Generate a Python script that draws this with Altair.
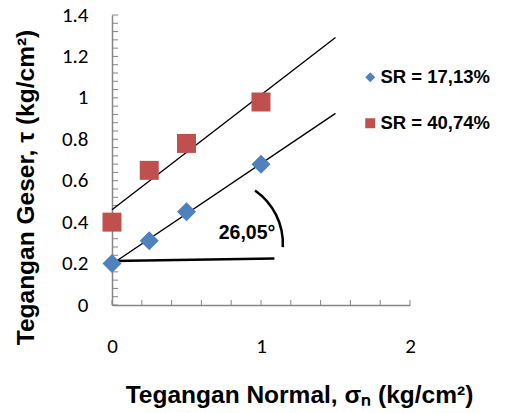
import altair as alt
import pandas as pd

# ---- data ----
sigma_n = [0, 0.25, 0.5, 1]
tau_sr17 = [0.20, 0.31, 0.45, 0.68]
tau_sr40 = [0.40, 0.65, 0.78, 0.98]
series_names = ["SR = 17,13%", "SR = 40,74%"]
series_colors = ["#4F81BD", "#C0504D"]
series_shapes = ["diamond", "square"]
trend_extent = [0, 1.5]

y_major = [0, 0.2, 0.4, 0.6, 0.8, 1.0, 1.2, 1.4]
x_major = [0, 1, 2]
y_minor = [round(i * 0.04, 2) for i in range(36)]
x_minor = [round(i * 0.2, 1) for i in range(11)]

# angle annotation
ref_x = [0, 1.09]
ref_y = [0.212, 0.225]
arc_center = [0.709, 0.295]
angle_label = "26,05°"
angle_label_pos = [0.906, 0.346]

# ---- tables ----
pts = pd.DataFrame({
    "x": sigma_n * 2,
    "y": tau_sr17 + tau_sr40,
    "series": [series_names[0]] * len(sigma_n) + [series_names[1]] * len(sigma_n),
})
yt = pd.DataFrame({"t": y_minor})
xt = pd.DataFrame({"t": x_minor})
ref = pd.DataFrame({"x": [ref_x[0]], "y": [ref_y[0]], "x2": [ref_x[1]], "y2": [ref_y[1]]})
arcdf = pd.DataFrame({"x": [arc_center[0]], "y": [arc_center[1]]})
txt = pd.DataFrame({"x": [angle_label_pos[0]], "y": [angle_label_pos[1]], "label": [angle_label]})

W, H = 298, 290
AX_GRAY = "#868686"
TICK_FONT = "Carlito, Calibri, Lato"
TITLE_FONT = "Liberation Sans, Arial"

x_axis = alt.Axis(
    title="Tegangan Normal, σₙ (kg/cm²)", values=x_major, format="~g", ticks=False, grid=False,
    labelFlush=False,
    labelFont=TICK_FONT, labelFontSize=21, labelColor="black", labelPadding=30,
    domainColor=AX_GRAY, domainWidth=1.5,
    titleFont=TITLE_FONT, titleFontSize=24.5, titleFontWeight="bold", titleColor="black",
    titleX=187, titleY=97, titleBaseline="alphabetic", titleAlign="center",
)
y_axis = alt.Axis(
    title="Tegangan Geser, τ (kg/cm²)", values=y_major, format="~g", ticks=False, grid=False,
    labelFlush=False,
    labelFont=TICK_FONT, labelFontSize=21, labelColor="black", labelPadding=24,
    domainColor=AX_GRAY, domainWidth=1.5,
    titleFont=TITLE_FONT, titleFontSize=24.5, titleFontWeight="bold", titleColor="black",
    titleX=-79, titleY=172, titleBaseline="alphabetic", titleAlign="center", titleAngle=270,
)
xs = alt.Scale(domain=[0, 2], nice=False, zero=False)
ys = alt.Scale(domain=[0, 1.4], nice=False, zero=False)


def X(f):
    return alt.X(f, type="quantitative", scale=xs, axis=x_axis)


def Y(f):
    return alt.Y(f, type="quantitative", scale=ys, axis=y_axis)


ytick_layer = alt.Chart(yt).mark_rule(color=AX_GRAY, strokeWidth=1).encode(
    y=Y("t"), x=alt.value(0), x2=alt.value(6)
)
xtick_layer = alt.Chart(xt).mark_rule(color=AX_GRAY, strokeWidth=1).encode(
    x=X("t"), y=alt.value(H), y2=alt.value(H - 5)
)

trend = alt.Chart(pts).transform_regression(
    "x", "y", groupby=["series"], extent=trend_extent
).mark_line(color="black", strokeWidth=1.4).encode(
    x=X("x"), y=Y("y"), detail="series:N"
)

points = alt.Chart(pts).mark_point(filled=True, opacity=1, size=360).encode(
    x=X("x"), y=Y("y"),
    color=alt.Color("series:N", scale=alt.Scale(domain=series_names, range=series_colors),
                    legend=alt.Legend(title=None)),
    shape=alt.Shape("series:N", scale=alt.Scale(domain=series_names, range=series_shapes),
                    legend=alt.Legend(title=None)),
)

ref_line = alt.Chart(ref).mark_rule(color="black", strokeWidth=2.5).encode(
    x=X("x"), y=Y("y"), x2="x2", y2="y2"
)

arc = alt.Chart(arcdf).mark_arc(
    radius=66.5, radius2=64, theta=0.61, theta2=1.62, color="black"
).encode(x=X("x"), y=Y("y"))

label = alt.Chart(txt).mark_text(
    font=TITLE_FONT, fontSize=19.5, fontWeight="bold", color="black", align="center", baseline="middle"
).encode(x=X("x"), y=Y("y"), text="label:N")

chart = alt.layer(
    ytick_layer, xtick_layer, trend, ref_line, arc, label, points
).properties(
    width=W, height=H,
    autosize=alt.AutoSizeParams(type="none"),
    padding={"left": 112, "top": 15, "right": 95, "bottom": 108},
).configure_view(stroke=None).configure_legend(
    orient="none", legendX=249, legendY=53, padding=0,
    labelFont=TITLE_FONT, labelFontSize=18.5, labelFontWeight="bold", labelColor="black",
    symbolSize=100, symbolStrokeWidth=0, symbolOpacity=1, rowPadding=27, labelOffset=1,
)

chart.save("out.html", embed_options={"renderer": "svg", "actions": False})
